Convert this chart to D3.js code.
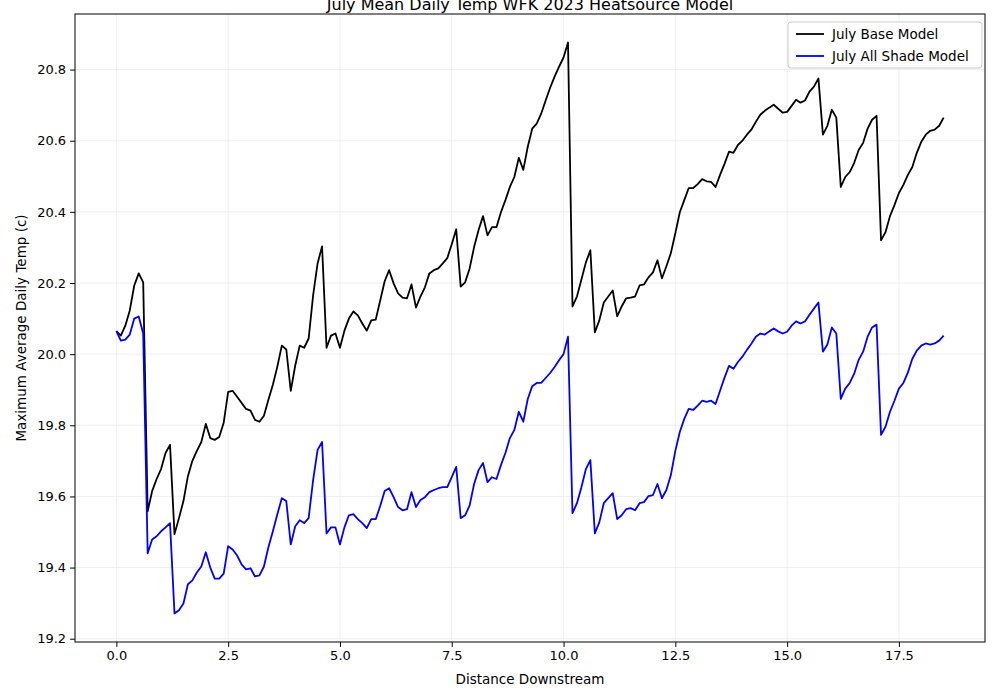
<!DOCTYPE html>
<html><head><meta charset="utf-8">
<script src="https://cdn.jsdelivr.net/npm/d3@7"></script>
<style>body{margin:0;background:#fff}svg{font-family:"DejaVu Sans",sans-serif}</style>
</head><body><svg id="c" width="1000" height="700"></svg>
<script>
const baseModel=[20.065,20.052,20.080,20.123,20.193,20.227,20.202,19.558,19.615,19.649,19.677,19.722,19.745,19.494,19.539,19.587,19.657,19.700,19.728,19.753,19.804,19.764,19.759,19.767,19.807,19.894,19.897,19.880,19.863,19.846,19.841,19.815,19.810,19.827,19.872,19.914,19.965,20.024,20.013,19.897,19.968,20.024,20.018,20.044,20.165,20.255,20.303,20.018,20.052,20.058,20.018,20.066,20.100,20.120,20.109,20.086,20.066,20.095,20.097,20.151,20.205,20.236,20.199,20.171,20.159,20.157,20.196,20.131,20.162,20.188,20.227,20.236,20.241,20.255,20.270,20.309,20.351,20.190,20.202,20.241,20.301,20.349,20.388,20.334,20.357,20.357,20.399,20.433,20.470,20.498,20.552,20.518,20.583,20.634,20.648,20.676,20.713,20.749,20.780,20.808,20.834,20.876,20.134,20.162,20.210,20.258,20.292,20.061,20.095,20.145,20.162,20.179,20.106,20.134,20.157,20.159,20.162,20.193,20.196,20.216,20.230,20.264,20.213,20.247,20.284,20.340,20.399,20.433,20.467,20.467,20.478,20.492,20.486,20.484,20.470,20.504,20.535,20.569,20.566,20.588,20.600,20.617,20.631,20.653,20.673,20.684,20.693,20.701,20.690,20.679,20.681,20.698,20.715,20.707,20.713,20.738,20.752,20.775,20.617,20.642,20.687,20.665,20.470,20.498,20.512,20.538,20.574,20.594,20.634,20.659,20.670,20.320,20.343,20.388,20.419,20.453,20.476,20.504,20.526,20.566,20.597,20.617,20.628,20.631,20.642,20.665];
const shadeModel=[20.065,20.038,20.041,20.055,20.100,20.106,20.058,19.440,19.479,19.488,19.502,19.513,19.525,19.271,19.280,19.299,19.353,19.364,19.386,19.403,19.443,19.400,19.369,19.369,19.383,19.460,19.451,19.434,19.409,19.395,19.398,19.375,19.378,19.403,19.457,19.502,19.550,19.595,19.587,19.465,19.516,19.533,19.525,19.539,19.646,19.731,19.753,19.496,19.513,19.513,19.465,19.513,19.547,19.550,19.536,19.525,19.511,19.536,19.536,19.573,19.615,19.623,19.598,19.570,19.561,19.564,19.612,19.570,19.590,19.598,19.612,19.618,19.623,19.626,19.626,19.654,19.683,19.539,19.547,19.575,19.635,19.674,19.694,19.640,19.654,19.649,19.688,19.722,19.764,19.787,19.838,19.810,19.874,19.910,19.919,19.919,19.933,19.947,19.964,19.983,20.000,20.049,19.553,19.581,19.626,19.677,19.702,19.496,19.527,19.581,19.595,19.609,19.536,19.547,19.564,19.567,19.561,19.581,19.584,19.601,19.604,19.635,19.595,19.618,19.660,19.728,19.781,19.818,19.846,19.843,19.855,19.869,19.866,19.869,19.860,19.897,19.934,19.967,19.959,19.978,19.993,20.012,20.029,20.049,20.058,20.055,20.064,20.072,20.064,20.058,20.063,20.080,20.092,20.086,20.092,20.111,20.128,20.145,20.007,20.027,20.075,20.058,19.874,19.903,19.919,19.945,19.984,20.007,20.049,20.075,20.083,19.773,19.796,19.838,19.869,19.903,19.919,19.948,19.987,20.010,20.024,20.030,20.027,20.030,20.038,20.052];
const seriesNames=["July Base Model","July All Shade Model"];
const seriesColors=["black","blue"];
const xTicks=[0,2.5,5,7.5,10,12.5,15,17.5];
const yTicks=[19.2,19.4,19.6,19.8,20.0,20.2,20.4,20.6,20.8];
const step=0.1;
const distance=baseModel.map((_,i)=>+(i*step).toFixed(1));

const svg=d3.select("#c");
const L=75,R=985,T=14,B=642;
const xMax=d3.max(distance), yMin=d3.min([...baseModel,...shadeModel]), yMax=d3.max([...baseModel,...shadeModel]);
const xm=xMax*0.05, ym=(yMax-yMin)*0.05;
const x=d3.scaleLinear().domain([-xm,xMax+xm]).range([L,R]);
const y=d3.scaleLinear().domain([yMin-ym,yMax+ym]).range([B,T]);

const g=svg.append("g");
g.selectAll(".gx").data(xTicks).join("line").attr("x1",d=>x(d)).attr("x2",d=>x(d)).attr("y1",T).attr("y2",B).attr("stroke","#ebebeb").attr("stroke-width",0.8);
g.selectAll(".gy").data(yTicks).join("line").attr("y1",d=>y(d)).attr("y2",d=>y(d)).attr("x1",L).attr("x2",R).attr("stroke","#ebebeb").attr("stroke-width",0.8);

const line=d3.line().x((d,i)=>x(distance[i])).y(d=>y(d));
[baseModel,shadeModel].forEach((s,k)=>{
  svg.append("path").datum(s).attr("d",line).attr("fill","none").attr("stroke",seriesColors[k]).attr("stroke-width",1.8).attr("stroke-linejoin","round");
});

const xa=svg.append("g").attr("transform",`translate(0,${B})`).call(d3.axisBottom(x).tickValues(xTicks).tickFormat(d3.format(".1f")).tickSize(4.9).tickPadding(4));
const ya=svg.append("g").attr("transform",`translate(${L},0)`).call(d3.axisLeft(y).tickValues(yTicks).tickFormat(d3.format(".1f")).tickSize(4.9).tickPadding(4));
[xa,ya].forEach(a=>{a.select(".domain").remove();a.selectAll("text").attr("font-size",13).attr("fill","#000").attr("font-family","DejaVu Sans");a.selectAll("line").attr("stroke","#000");});
svg.append("rect").attr("x",L).attr("y",T).attr("width",R-L).attr("height",B-T).attr("fill","none").attr("stroke","#000").attr("stroke-width",1);

svg.append("text").attr("x",(L+R)/2).attr("y",684).attr("text-anchor","middle").attr("font-size",13.5).text("Distance Downstream");
svg.append("text").attr("transform",`translate(26,${(T+B)/2}) rotate(-90)`).attr("text-anchor","middle").attr("font-size",13.5).text("Maximum Average Daily Temp (c)");
svg.append("text").attr("x",(L+R)/2).attr("y",10).attr("text-anchor","middle").attr("font-size",16).text("July Mean Daily Temp WFK 2023 Heatsource Model");

const lg=svg.append("g").attr("transform","translate(788,22)");
lg.append("rect").attr("width",194).attr("height",46).attr("rx",3).attr("fill","#fff").attr("fill-opacity",0.8).attr("stroke","#cccccc");
seriesNames.forEach((n,k)=>{
  lg.append("line").attr("x1",8).attr("x2",36).attr("y1",12+k*22).attr("y2",12+k*22).attr("stroke",seriesColors[k]).attr("stroke-width",1.8);
  lg.append("text").attr("x",44).attr("y",17+k*22).attr("font-size",13.5).text(n);
});
</script></body></html>
